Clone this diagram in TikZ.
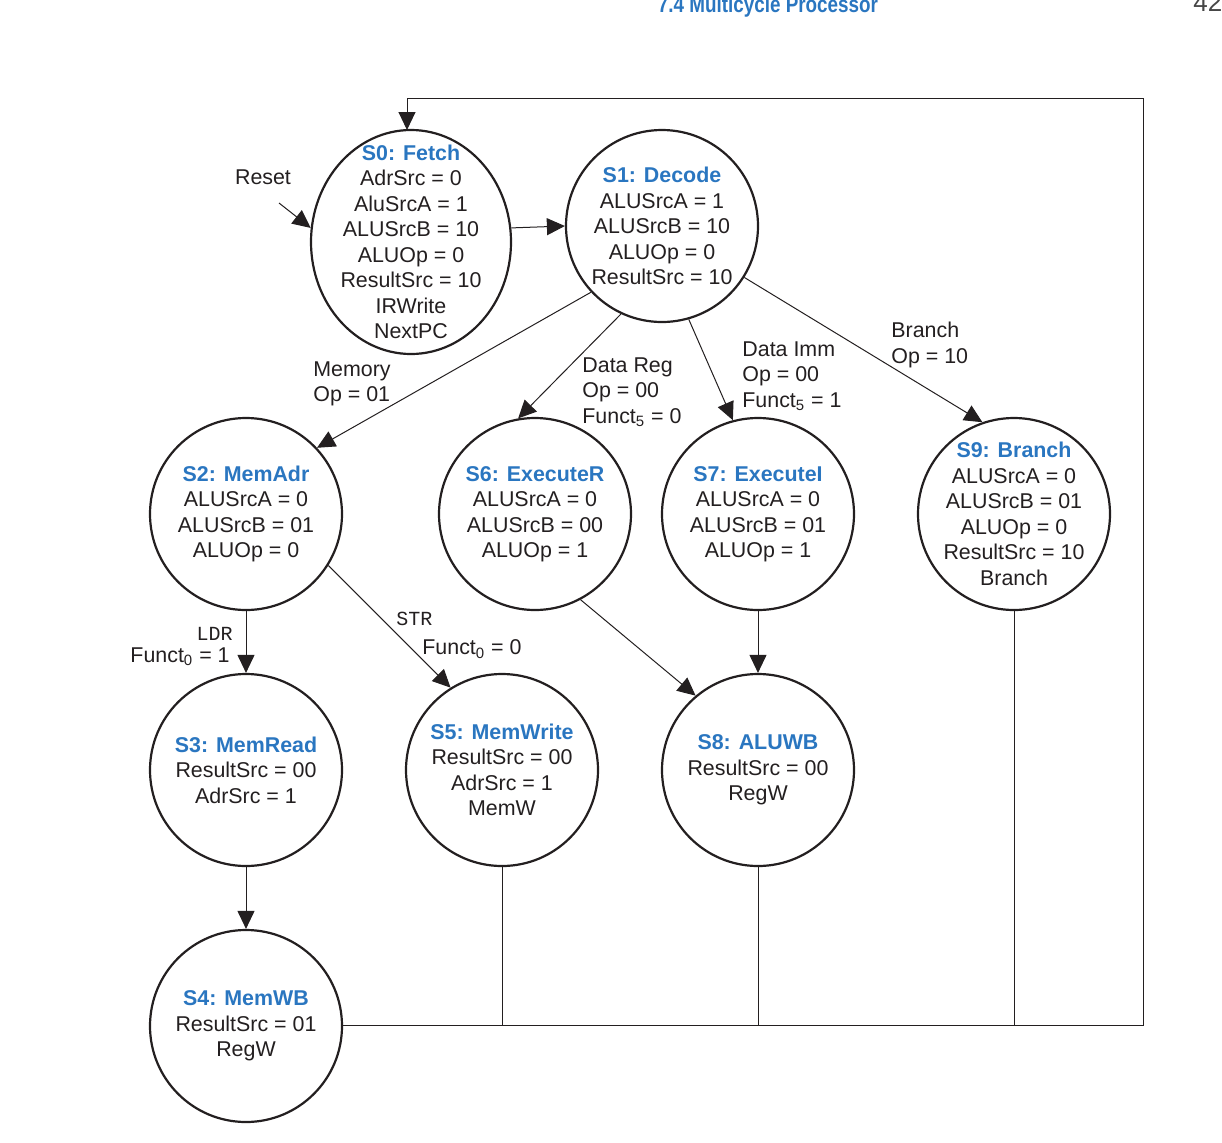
\documentclass[tikz,border=0pt]{standalone}
\usepackage{fontspec}
\setmainfont{Liberation Sans}
\setmonofont{Liberation Mono}
\usetikzlibrary{arrows.meta,shapes.geometric}
\definecolor{titleblue}{RGB}{42,118,192}
\definecolor{ink}{RGB}{35,31,32}
\definecolor{pagegray}{RGB}{70,70,70}
\newcommand\sttitle[1]{\textcolor{titleblue}{\textbf{#1}}}
\begin{document}
\begin{tikzpicture}[x=0.5pt,y=-0.5pt,
  every node/.style={text=ink},
  statenode/.style={circle, draw=ink, line width=1.1pt, minimum size=96pt, inner sep=0pt, align=center, font=\fontsize{10.7}{12.75}\selectfont},
  statetext/.style={inner sep=0pt, align=center, font=\fontsize{10.7}{12.75}\selectfont},
  lbl/.style={inner sep=0pt, align=left, font=\fontsize{10.7}{12.75}\selectfont},
  monolbl/.style={inner sep=0pt, font=\ttfamily\fontsize{10}{12}\selectfont},
  conn/.style={draw=ink, line width=0.5pt, -{Triangle[length=9pt,width=8.5pt]}},
  plainline/.style={draw=ink, line width=0.5pt},
]
\useasboundingbox (0,0) rectangle (1222,1142);

% page header
\node[inner sep=0pt, anchor=base, text=titleblue, font=\bfseries\fontsize{11.5}{13}\selectfont] (hdr) at (768,12) {\scalebox{0.82}[1]{7.4 Multicycle Processor}};
\node[inner sep=0pt, anchor=base west, text=pagegray, font=\fontsize{13}{15}\selectfont] (pg) at (1193,11) {42};

% states
\node[ellipse, draw=ink, line width=1.1pt, minimum width=100pt, minimum height=112pt, inner sep=0pt] (S0) at (411,242) {};
\node[statetext] (S0t) at (S0.center)
  {\sttitle{S0: Fetch}\\AdrSrc = 0\\AluSrcA = 1\\ALUSrcB = 10\\ALUOp = 0\\ResultSrc = 10\\IRWrite\\NextPC};
\node[statenode] (S1) at (662,226)
  {\sttitle{S1: Decode}\\ALUSrcA = 1\\ALUSrcB = 10\\ALUOp = 0\\ResultSrc = 10};
\node[statenode] (S2) at (246,514)
  {\sttitle{S2: MemAdr}\\ALUSrcA = 0\\ALUSrcB = 01\\ALUOp = 0};
\node[statenode] (S6) at (535,514)
  {\sttitle{S6: ExecuteR}\\ALUSrcA = 0\\ALUSrcB = 00\\ALUOp = 1};
\node[statenode] (S7) at (758,514)
  {\sttitle{S7: ExecuteI}\\ALUSrcA = 0\\ALUSrcB = 01\\ALUOp = 1};
\node[statenode] (S9) at (1014,514) {};
\node[statetext] (S9t) at (S9.center)
  {\sttitle{S9: Branch}\\ALUSrcA = 0\\ALUSrcB = 01\\ALUOp = 0\\ResultSrc = 10\\Branch};
\node[statenode] (S3) at (246,770)
  {\sttitle{S3: MemRead}\\ResultSrc = 00\\AdrSrc = 1};
\node[statenode] (S5) at (502,770)
  {\sttitle{S5: MemWrite}\\ResultSrc = 00\\AdrSrc = 1\\MemW};
\node[statenode] (S8) at (758,770)
  {\sttitle{S8: ALUWB}\\ResultSrc = 00\\RegW};
\node[statenode] (S4) at (246,1026)
  {\sttitle{S4: MemWB}\\ResultSrc = 01\\RegW};

% labels
\node[lbl] (lreset) at (263,177) {Reset};
\node[lbl, anchor=west] (lmem) at (313,384) {Memory\\Op = 01};
\node[lbl, anchor=west] (ldreg) at (582,392) {Data Reg\\Op = 00\\Funct\textsubscript{5} = 0};
\node[lbl, anchor=west] (ldimm) at (742,376) {Data Imm\\Op = 00\\Funct\textsubscript{5} = 1};
\node[lbl, anchor=west] (lbr) at (891,345) {Branch\\Op = 10};
\node[monolbl, anchor=east] (lldr) at (233,634) {LDR};
\node[lbl, anchor=east] (lf1) at (230,657) {Funct\textsubscript{0} = 1};
\node[monolbl, anchor=west] (lstr) at (396,619) {STR};
\node[lbl, anchor=west] (lf0) at (422,649) {Funct\textsubscript{0} = 0};

% connectors
\coordinate (rst) at (279,203);
\draw[conn] (rst) -- (S0.172);
\draw[conn] (S0.8) -- (S1.west);
\draw[conn] (S1.-137.5) -- (S2.43.8);
\draw[conn] (S1.245.3) -- (S6.100.8);
\draw[conn] (S1.286.4) -- (S7.105.4);
\draw[conn] (S1.-32.6) -- (S9.109.6);
\draw[conn] (S2.south) -- (S3.north);
\draw[conn] (S2.-32.9) -- (S5.122.4);
\draw[conn] (S6.-62.1) -- (S8.130.5);
\draw[conn] (S7.south) -- (S8.north);
\draw[conn] (S3.south) -- (S4.north);

% return path
\coordinate (br) at (1143,1025);
\coordinate (tr) at (1143,98);
\coordinate (tl) at (407,98);
\coordinate (s0top) at (407,130);
\draw[conn] (S4.east |- br) -- (br) -- (tr) -- (tl) -- (s0top);
\draw[plainline] (S5.south) -- (S5.south |- br);
\draw[plainline] (S8.south) -- (S8.south |- br);
\draw[plainline] (S9.south) -- (S9.south |- br);
\end{tikzpicture}
\end{document}
